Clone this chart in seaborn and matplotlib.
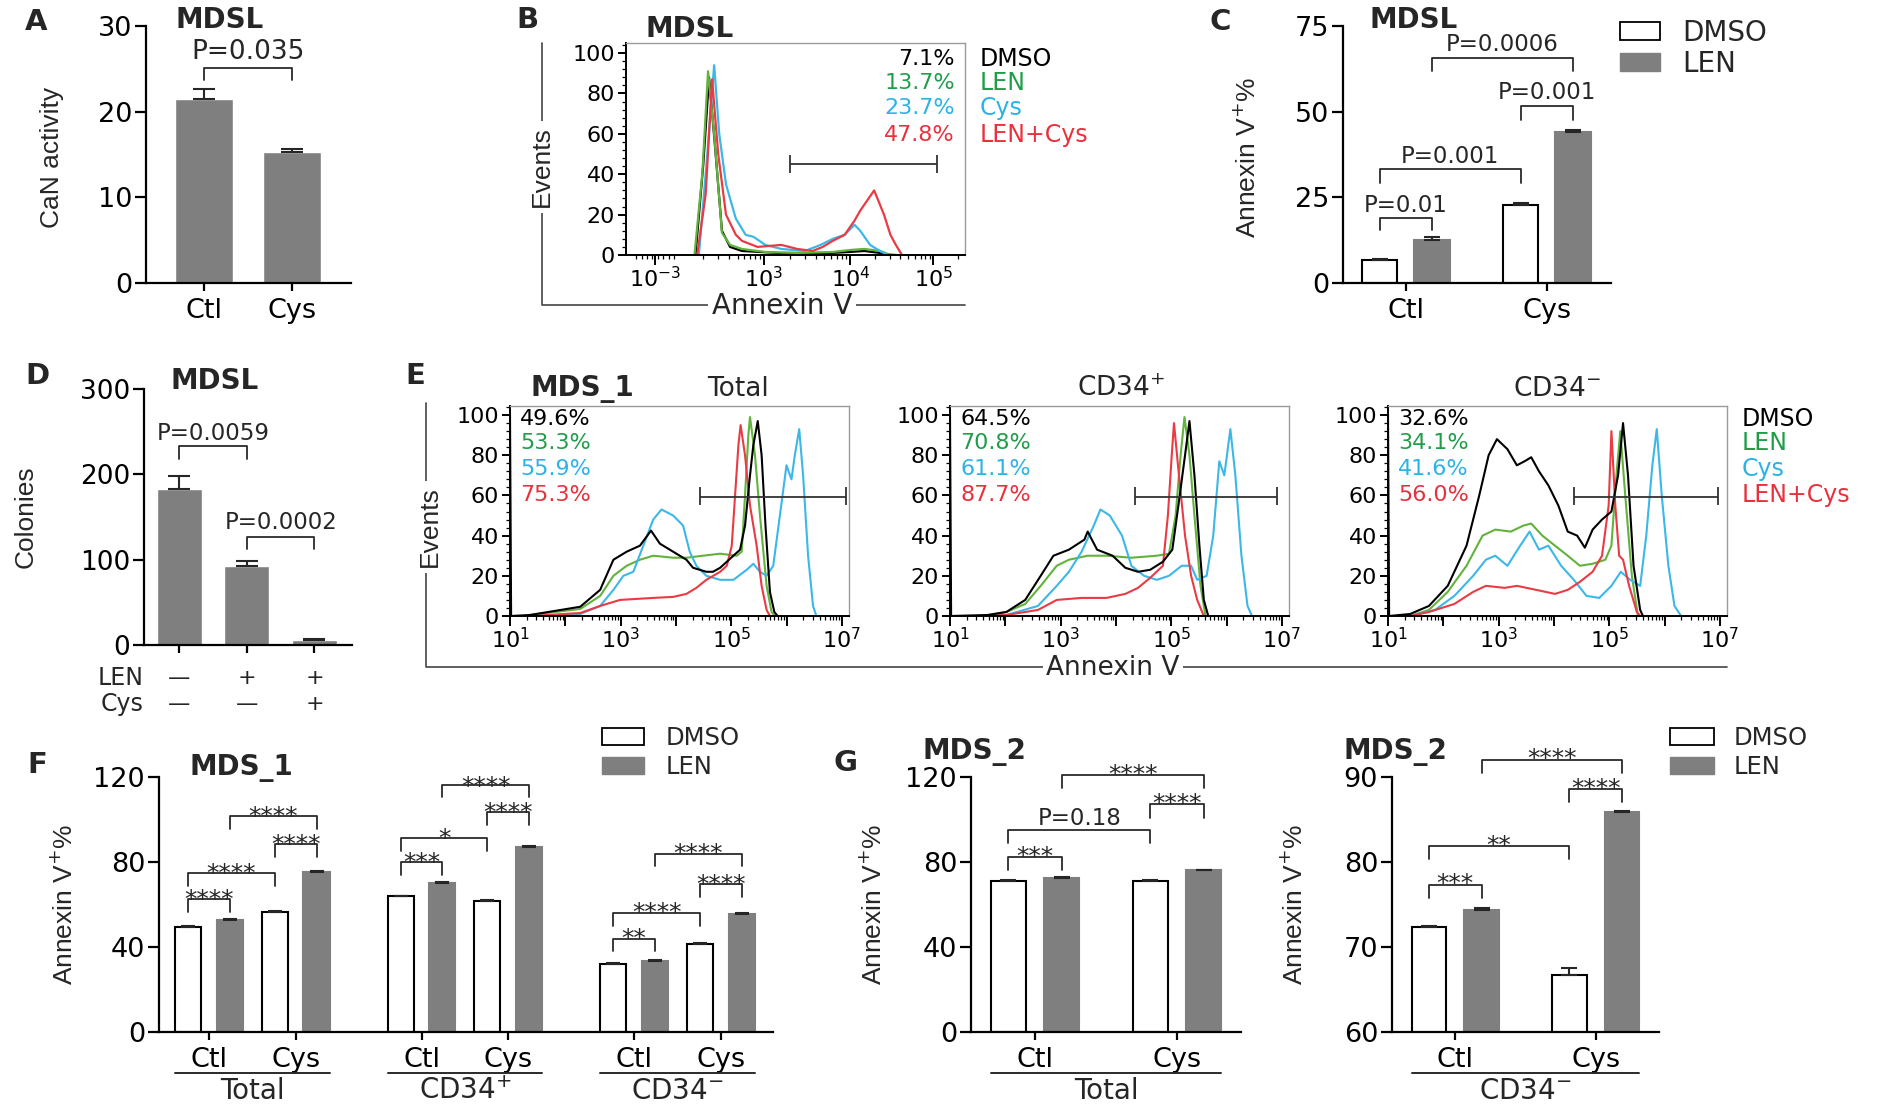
import numpy as np
import pandas as pd
import matplotlib
matplotlib.use('Agg')
import matplotlib.pyplot as plt
import seaborn as sns
from matplotlib import font_manager
from matplotlib.lines import Line2D
from matplotlib.patches import Patch
from matplotlib.ticker import AutoMinorLocator, FixedLocator, LogLocator, NullFormatter

W, H = 1881, 1107

# ---------------- data ----------------
# A: calcineurin activity
a_groups = ['Ctl', 'Cys']
a_mean = [21.5, 15.3]
a_err = [1.2, 0.3]

# B: MDSL annexin V histogram (x in channel units of the plot box, 0-100)
b_names = ['DMSO', 'LEN', 'Cys', 'LEN+Cys']
b_pct = ['7.1%', '13.7%', '23.7%', '47.8%']
b_ticks = [8.5, 40.6, 66.2, 90.7]
b_ticklabels = ['$10^{-3}$', '$10^{3}$', '$10^{4}$', '$10^{5}$']
b_gate = [48.5, 91.6, 45]
b_dmso_x = [20.5, 22.8, 24.5, 26.2, 28.3, 30.7, 34.2, 45.0, 60.0, 66.0, 70.3, 75.0, 78.0]
b_dmso_y = [0, 45, 88, 55, 12, 4, 2, 1, 1, 1.5, 2, 1, 0]
b_len_x = [20.2, 22.5, 24.2, 26.0, 28.3, 30.7, 34.2, 41.1, 50.5, 61.0, 66.2, 70.3, 74.9, 77.3, 80.0]
b_len_y = [0, 40, 91, 60, 11, 5, 3, 1.5, 1, 1.5, 2.5, 3, 2, 0.5, 0]
b_cys_x = [21.5, 24.0, 26.0, 27.5, 29.5, 32.4, 35.3, 37.6, 41.1, 45.8, 52.8, 57.4, 61.0, 64.5, 67.4, 69.1, 72.0, 74.9, 77.3]
b_cys_y = [0, 50, 94, 60, 35, 18, 10, 9, 5, 3, 2, 5, 8, 10, 15, 12, 5, 2, 0]
b_lc_x = [21.0, 23.5, 25.4, 27.2, 29.5, 32.4, 34.2, 38.8, 45.8, 50.5, 55.1, 58.0, 61.0, 64.5, 67.4, 69.1, 73.2, 76.1, 78.0, 79.6, 81.4]
b_lc_y = [0, 30, 87, 50, 20, 10, 7, 4, 5, 3, 2, 4, 7, 10, 17, 22, 32, 20, 10, 5, 0]

# C: MDSL annexin V+ %
c_cond = ['Ctl', 'Cys']
c_dmso = [6.8, 22.8]
c_dmso_err = [0.2, 0.6]
c_len = [12.5, 44.0]
c_len_err = [0.8, 0.7]
c_brackets = [(0, 1, 19.1, 15.4, 'P=0.01', 23.2), (0, 2, 33.2, 29.2, 'P=0.001', 37.3),
              (2, 3, 51.6, 47.7, 'P=0.001', 56.0), (1, 3, 65.8, 62.0, 'P=0.0006', 70.0)]

# D: colonies
d_vals = [182.6, 92.0, 5.5]
d_err = [16.0, 6.5, 1.5]
d_len = ['\u2014', '+', '+']
d_cys = ['\u2014', '\u2014', '+']
d_brackets = [(0, 1, 233.5, 218, 'P=0.0059', 250), (1, 2, 127, 112.6, 'P=0.0002', 145.5)]

# E: MDS_1 histograms (x in log10 annexin V)
e_titles = ['Total', 'CD34$^{+}$', 'CD34$^{-}$']
e_pct = [['49.6%', '53.3%', '55.9%', '75.3%'],
         ['64.5%', '70.8%', '61.1%', '87.7%'],
         ['32.6%', '34.1%', '41.6%', '56.0%']]
e_gate = [[4.43, 7.07], [4.34, 6.91], [4.36, 6.96]]
e_tot_dmso_x = [1.0, 1.02, 1.36, 2.27, 2.63, 2.87, 3.11, 3.35, 3.55, 3.71, 3.95, 4.19, 4.31, 4.55, 4.67, 4.80,
                4.92, 5.04, 5.16, 5.25, 5.34, 5.40, 5.48, 5.55, 5.62, 5.70, 5.78, 5.84]
e_tot_dmso_y = [100, 0, 0.5, 4.6, 13, 28, 32, 35, 42.5, 36, 32, 28, 24, 22, 22, 24, 27, 30, 33, 45, 70, 85, 97,
                80, 45, 12, 2, 0]
e_tot_len_x = [1.36, 2.27, 2.63, 2.87, 3.11, 3.35, 3.59, 3.95, 4.19, 4.49, 4.80, 5.10, 5.19, 5.25, 5.31, 5.34,
               5.43, 5.52, 5.64, 5.73, 5.79]
e_tot_len_y = [0.5, 3.5, 10, 20, 25, 28, 30, 29, 29, 30, 31, 30, 32, 60, 90, 99, 80, 50, 15, 2, 0]
e_tot_cys_x = [1.4, 2.27, 2.63, 2.87, 3.05, 3.23, 3.41, 3.59, 3.74, 3.95, 4.13, 4.25, 4.37, 4.55, 4.80, 5.04,
               5.28, 5.40, 5.52, 5.64, 5.76, 5.88, 6.00, 6.09, 6.15, 6.23, 6.30, 6.39, 6.48, 6.54]
e_tot_cys_y = [0, 1, 5, 13, 20, 22, 35, 48, 53, 50, 45, 32, 25, 20, 18, 18, 23, 26, 22, 20, 25, 50, 75, 68,
               80, 93, 70, 30, 5, 0]
e_tot_lc_x = [1.4, 2.27, 2.63, 2.99, 3.59, 3.95, 4.19, 4.37, 4.55, 4.80, 4.92, 5.01, 5.07, 5.13, 5.17, 5.25,
              5.34, 5.46, 5.55, 5.64, 5.70]
e_tot_lc_y = [0, 1.5, 5, 8, 9, 9.5, 11, 14, 18, 22, 25, 35, 60, 85, 95, 80, 55, 35, 15, 3, 0]

e_p_dmso_x = [1.0, 1.02, 1.68, 2.02, 2.36, 2.64, 2.87, 3.15, 3.43, 3.49, 3.66, 3.94, 4.17, 4.40, 4.62, 4.85,
              5.02, 5.13, 5.25, 5.33, 5.42, 5.51, 5.59, 5.67]
e_p_dmso_y = [100, 0, 0.5, 2, 8, 20, 30, 33, 38, 42, 33, 30, 24, 22, 23, 27, 33, 55, 80, 97, 70, 35, 8, 0]
e_p_len_x = [1.6, 2.02, 2.36, 2.64, 2.93, 3.15, 3.49, 3.83, 4.28, 4.74, 4.96, 5.08, 5.17, 5.24, 5.33, 5.42,
             5.53, 5.62]
e_p_len_y = [0, 2, 6, 15, 25, 28, 30, 30, 29, 30, 31, 50, 80, 99, 80, 50, 15, 0]
e_p_cys_x = [1.6, 2.02, 2.59, 2.93, 3.15, 3.38, 3.60, 3.72, 3.89, 4.11, 4.28, 4.51, 4.74, 4.96, 5.19, 5.36,
             5.47, 5.64, 5.76, 5.87, 5.96, 6.07, 6.16, 6.27, 6.38, 6.46]
e_p_cys_y = [0, 0.5, 5, 15, 22, 32, 45, 53, 50, 40, 25, 20, 18, 20, 25, 25, 18, 20, 40, 77, 70, 93, 70, 30,
             5, 0]
e_p_lc_x = [1.6, 2.02, 2.59, 2.93, 3.38, 3.83, 4.17, 4.40, 4.62, 4.85, 4.94, 5.01, 5.05, 5.14, 5.25, 5.36,
            5.47, 5.59]
e_p_lc_y = [0, 0.5, 3, 8, 9, 9, 11, 14, 19, 25, 50, 80, 96, 70, 40, 20, 8, 0]

e_n_dmso_x = [1.0, 1.02, 1.40, 1.74, 2.08, 2.42, 2.65, 2.82, 2.97, 3.16, 3.33, 3.47, 3.59, 3.73, 3.90, 4.08,
              4.25, 4.42, 4.56, 4.70, 4.87, 5.04, 5.16, 5.25, 5.34, 5.44, 5.56, 5.61]
e_n_dmso_y = [100, 0, 1, 5, 15, 35, 60, 80, 88, 83, 75, 77, 79, 72, 65, 55, 42, 40, 34, 43, 48, 52, 70, 96,
              70, 25, 3, 0]
e_n_len_x = [1.4, 1.74, 2.08, 2.42, 2.71, 2.94, 3.22, 3.45, 3.59, 3.79, 4.02, 4.25, 4.47, 4.70, 4.93, 5.04,
             5.13, 5.20, 5.29, 5.41, 5.52]
e_n_len_y = [0, 3, 12, 25, 40, 43, 42, 45, 46, 40, 35, 30, 25, 26, 28, 35, 70, 92, 60, 20, 0]
e_n_cys_x = [1.4, 1.85, 2.20, 2.54, 2.77, 2.94, 3.16, 3.39, 3.56, 3.73, 3.90, 4.13, 4.36, 4.59, 4.82, 5.04,
             5.21, 5.38, 5.56, 5.67, 5.78, 5.86, 5.95, 6.07, 6.18, 6.30]
e_n_cys_y = [0, 3, 10, 20, 28, 30, 25, 35, 42, 33, 35, 25, 18, 10, 9, 15, 22, 18, 15, 40, 75, 93, 60, 25, 5, 0]
e_n_lc_x = [1.4, 1.74, 2.20, 2.54, 2.77, 3.11, 3.33, 3.68, 4.02, 4.25, 4.47, 4.70, 4.87, 4.99, 5.04, 5.11,
            5.18, 5.25, 5.36, 5.50, 5.56]
e_n_lc_y = [0, 2, 6, 12, 15, 14, 15, 13, 11, 13, 17, 22, 30, 55, 92, 55, 30, 28, 15, 2, 0]

# F: MDS_1 annexin V+ % by subset
f_groups = ['Total', 'CD34$^{+}$', 'CD34$^{-}$']
f_dmso = [49.3, 56.3, 63.8, 61.8, 32.0, 41.4]
f_len = [52.9, 75.1, 70.3, 87.2, 33.6, 55.7]
f_err = [0.4, 0.5, 0.4, 0.4, 0.3, 0.4]
f_brackets = [(0, 1, 62.6, 56.3, '****', 65.7), (0, 2, 74.8, 68.5, '****', 78.0),
              (2, 3, 88.6, 82.4, '****', 91.3), (1, 3, 101.8, 95.5, '****', 104.6),
              (4, 5, 79.8, 73.9, '***', 83.0), (4, 6, 91.3, 85.3, '*', 94.4),
              (6, 7, 103.5, 97.3, '****', 106.5), (5, 7, 116.4, 110.4, '****', 119.0),
              (8, 9, 43.9, 38.0, '**', 47.4), (8, 10, 56.0, 49.7, '****', 59.5),
              (10, 11, 69.6, 63.5, '****', 72.9), (9, 11, 83.9, 78.0, '****', 87.4)]

# G: MDS_2
g1_dmso = [71.1, 71.1]
g1_len = [72.5, 76.1]
g1_err = [0.2, 0.4, 0.3, 0.2]
g1_brackets = [(0, 1, 82.4, 76.1, '***', 86.1), (0, 2, 95.2, 88.9, 'P=0.18', 101.2),
               (2, 3, 107.3, 100.9, '****', 111.0), (1, 3, 121.1, 114.8, '****', 124.7)]
g2_dmso = [72.4, 66.7]
g2_len = [74.3, 85.9]
g2_err = [0.1, 0.25, 0.8, 0.1]
g2_brackets = [(0, 1, 77.25, 75.8, '***', 78.3), (0, 2, 81.9, 80.35, '**', 82.8),
               (2, 3, 88.6, 87.06, '****', 89.5), (1, 3, 92.04, 90.5, '****', 93.0)]

# ---------------- style ----------------
GRAY = '#7f7f7f'
TXT = {'DMSO': 'black', 'LEN': '#1f9e4a', 'Cys': '#2cb3e6', 'LEN+Cys': '#e8313d'}
CRV = {'DMSO': 'black', 'LEN': '#62b23c', 'Cys': '#3bb8e8', 'LEN+Cys': '#ea3b44'}

sns.set_theme(style='ticks')
plt.rcParams['font.family'] = ['DejaVu Sans']
plt.rcParams['mathtext.fontset'] = 'dejavusans'
plt.rcParams['axes.edgecolor'] = 'black'
plt.rcParams['xtick.color'] = 'black'
plt.rcParams['ytick.color'] = 'black'

_names = {f.name for f in font_manager.fontManager.ttflist}
if 'Liberation Sans Narrow' in _names:
    NARROW, NFS = ['Liberation Sans Narrow', 'DejaVu Sans'], 22
else:
    NARROW, NFS = ['Liberation Sans', 'DejaVu Sans'], 19

fig = plt.figure(figsize=(W / 100, H / 100), dpi=100)


def axes_px(left, top, right, bottom):
    return fig.add_axes([left / W, 1 - bottom / H, (right - left) / W, (bottom - top) / H])


def ftext(x, y, s, **kw):
    return fig.text(x / W, 1 - y / H, s, **kw)


def fline(xs, ys, **kw):
    fig.add_artist(Line2D([x / W for x in xs], [1 - y / H for y in ys], **kw))


def letter(x, y, s):
    ftext(x, y, s, fontsize=21, fontweight='bold', ha='center', va='center')


def ylab(x, y, s):
    ftext(x, y, s, rotation=90, ha='center', va='center', fontsize=NFS, family=NARROW)


def style_bar(ax, fs=19):
    sns.despine(ax=ax)
    for s in ['left', 'bottom']:
        ax.spines[s].set_linewidth(1.6)
    ax.tick_params(axis='y', length=8, width=1.6, labelsize=fs, pad=2)
    ax.tick_params(axis='x', length=6, width=1.6, labelsize=fs, pad=5)
    ax.set_xlabel('')
    ax.set_ylabel('')


def sorted_bars(ax):
    return sorted(ax.patches, key=lambda p: p.get_x())


def centers(bars):
    return [p.get_x() + p.get_width() / 2 for p in bars]


def up_err(ax, xs, ys, errs, cap=7):
    ax.errorbar(xs, ys, yerr=[np.zeros(len(errs)), errs], fmt='none', ecolor='#262626',
                elinewidth=1.5, capsize=cap, capthick=1.5, zorder=3)


def bracket(ax, x1, x2, yb, yl, label, yt, fs):
    ax.plot([x1, x1, x2, x2], [yl, yb, yb, yl], color='#2a2a2a', lw=1.3, clip_on=False)
    k = 0.58 if label.startswith('*') else 0.36
    ax.annotate(label, xy=((x1 + x2) / 2, yt), xytext=(0, -k * fs), textcoords='offset points',
                ha='center', va='baseline', fontsize=fs, annotation_clip=False)


def grouped(ax, xvals, dmso, lenv, width, gap, native=False):
    df = pd.DataFrame({'x': list(xvals) * 2, 'treat': ['DMSO'] * len(dmso) + ['LEN'] * len(lenv),
                       'val': list(dmso) + list(lenv)})
    sns.barplot(data=df, x='x', y='val', hue='treat', palette={'DMSO': 'white', 'LEN': GRAY},
                width=width, gap=gap, saturation=1, errorbar=None, edgecolor='black', linewidth=1.5,
                legend=False, native_scale=native, ax=ax)
    bars = sorted_bars(ax)
    vals = []
    for i in range(len(dmso)):
        vals += [dmso[i], lenv[i]]
    for i, p in enumerate(bars):
        if i % 2 == 1:
            p.set_edgecolor(GRAY)
    return bars, vals


def bar_legend(x, y, fs, hl, hh, ls, htp):
    handles = [Patch(facecolor='white', edgecolor='black', linewidth=1.3, label='DMSO'),
               Patch(facecolor=GRAY, edgecolor=GRAY, label='LEN')]
    fig.legend(handles=handles, loc='upper left', bbox_to_anchor=(x / W, 1 - y / H), frameon=False,
               fontsize=fs, handlelength=hl, handleheight=hh, labelspacing=ls, borderpad=0,
               borderaxespad=0, handletextpad=htp)


def flow_axes(ax, fs=16):
    for s in ['top', 'right']:
        ax.spines[s].set_color('#9a9a9a')
        ax.spines[s].set_linewidth(1.0)
    for s in ['left', 'bottom']:
        ax.spines[s].set_linewidth(1.4)
    ax.set_yticks([0, 20, 40, 60, 80, 100])
    ax.yaxis.set_minor_locator(AutoMinorLocator(5))
    ax.tick_params(which='major', length=6, width=1.4, labelsize=fs, pad=2)
    ax.tick_params(which='minor', length=3, width=0.9)
    ax.tick_params(axis='x', which='major', length=7, pad=1)
    ax.set_xlabel('')
    ax.set_ylabel('')


# ---------------- A ----------------
ax = axes_px(146, 26, 351, 283)
sns.barplot(x=a_groups, y=a_mean, color=GRAY, saturation=1, width=0.65, errorbar=None, ax=ax)
xa = centers(sorted_bars(ax))
up_err(ax, xa, a_mean, a_err, cap=8)
ax.set_xlim(-0.66, 1.67)
ax.set_ylim(0, 30)
ax.set_yticks([0, 10, 20, 30])
style_bar(ax, 19.5)
bracket(ax, xa[0], xa[1], 25.1, 23.7, 'P=0.035', 27.2, 19)
letter(36, 22, 'A')
ftext(220, 20, 'MDSL', fontsize=20, fontweight='bold', ha='center', va='center')
ylab(52, 157, 'CaN activity')

# ---------------- B ----------------
ax = axes_px(626, 43, 965, 255)
b_curves = [('DMSO', b_dmso_x, b_dmso_y), ('LEN', b_len_x, b_len_y),
            ('Cys', b_cys_x, b_cys_y), ('LEN+Cys', b_lc_x, b_lc_y)]
for name, xs, ys in b_curves:
    sns.lineplot(x=xs, y=ys, color=CRV[name], lw=1.6, sort=False, estimator=None, ax=ax)
ax.set_xlim(0, 100)
ax.set_ylim(0, 105)
flow_axes(ax, 16)
ax.set_xticks(b_ticks, b_ticklabels)
bminor = [40.6 - 25.6 * (1 - np.log10(k)) for k in range(2, 10)]
bminor += [40.6 + 25.6 * np.log10(k) for k in range(2, 10)]
bminor += [66.2 + 24.5 * np.log10(k) for k in range(2, 10)]
bminor += [90.7 + 24.5 * np.log10(k) for k in range(2, 3)]
bminor += list(np.arange(3.0, 15.0, 1.6))
ax.xaxis.set_minor_locator(FixedLocator(bminor))
ax.hlines(b_gate[2], b_gate[0], b_gate[1], color='#333333', lw=1.3)
ax.vlines([b_gate[0], b_gate[1]], b_gate[2] - 4.5, b_gate[2] + 4.5, color='#333333', lw=1.3)
ty = [97, 85, 72.7, 59.5]
for i, name in enumerate(b_names):
    ax.text(0.97, ty[i], b_pct[i], transform=ax.get_yaxis_transform(), ha='right', va='center',
            fontsize=16, color=TXT[name])
    ax.text(1.044, ty[i], name, transform=ax.get_yaxis_transform(), ha='left', va='center',
            fontsize=17, color=TXT[name], clip_on=False)
letter(527, 20, 'B')
ftext(690, 29, 'MDSL', fontsize=20, fontweight='bold', ha='center', va='center')
fline([542, 542, 965], [43, 305, 305], color='#444444', lw=1.2)
ftext(542, 167, 'Events', rotation=90, ha='center', va='center', fontsize=NFS, family=NARROW,
      bbox=dict(facecolor='white', edgecolor='none', pad=4))
ftext(782, 306, 'Annexin V', ha='center', va='center', fontsize=20,
      bbox=dict(facecolor='white', edgecolor='none', pad=3))

# ---------------- C ----------------
ax = axes_px(1343, 26, 1611, 283)
bars, vals = grouped(ax, c_cond, c_dmso, c_len, 0.74, 0.32)
xc = centers(bars)
up_err(ax, xc, vals, [c_dmso_err[0], c_len_err[0], c_dmso_err[1], c_len_err[1]], cap=6)
ax.set_xlim(-0.445, 1.455)
ax.set_ylim(0, 75)
ax.set_yticks([0, 25, 50, 75])
style_bar(ax, 19.5)
for i, j, yb, yl, lab, yt in c_brackets:
    bracket(ax, xc[i], xc[j], yb, yl, lab, yt, 16.5)
letter(1220, 22, 'C')
ftext(1414, 20, 'MDSL', fontsize=20, fontweight='bold', ha='center', va='center')
ylab(1248, 157, 'Annexin V$^{+}$%')
bar_legend(1620, 19, 20, 1.44, 0.61, 0.1, 0.8)

# ---------------- D ----------------
ax = axes_px(144, 389, 352, 645)
sns.barplot(x=['a', 'b', 'c'], y=d_vals, color=GRAY, saturation=1, width=0.667, errorbar=None, ax=ax)
xd = centers(sorted_bars(ax))
up_err(ax, xd, d_vals, d_err, cap=8)
ax.set_xlim(-0.526, 2.556)
ax.set_ylim(0, 300)
ax.set_yticks([0, 100, 200, 300])
style_bar(ax, 19)
ax.set_xticklabels([])
for i, j, yb, yl, lab, yt in d_brackets:
    bracket(ax, xd[i], xd[j], yb, yl, lab, yt, 16.5)
ax.text(0.0, -0.128, 'LEN', transform=ax.transAxes, ha='right', va='center', fontsize=17)
ax.text(0.0, -0.232, 'Cys', transform=ax.transAxes, ha='right', va='center', fontsize=17)
for k in range(3):
    ax.text(xd[k], -0.128, d_len[k], transform=ax.get_xaxis_transform(), ha='center', va='center',
            fontsize=16)
    ax.text(xd[k], -0.232, d_cys[k], transform=ax.get_xaxis_transform(), ha='center', va='center',
            fontsize=16)
letter(37, 376, 'D')
ftext(215, 381, 'MDSL', fontsize=20, fontweight='bold', ha='center', va='center')
ylab(26, 517, 'Colonies')

# ---------------- E ----------------
e_curves = [
    [('LEN', e_tot_len_x, e_tot_len_y), ('Cys', e_tot_cys_x, e_tot_cys_y),
     ('LEN+Cys', e_tot_lc_x, e_tot_lc_y), ('DMSO', e_tot_dmso_x, e_tot_dmso_y)],
    [('LEN', e_p_len_x, e_p_len_y), ('Cys', e_p_cys_x, e_p_cys_y),
     ('LEN+Cys', e_p_lc_x, e_p_lc_y), ('DMSO', e_p_dmso_x, e_p_dmso_y)],
    [('LEN', e_n_len_x, e_n_len_y), ('Cys', e_n_cys_x, e_n_cys_y),
     ('LEN+Cys', e_n_lc_x, e_n_lc_y), ('DMSO', e_n_dmso_x, e_n_dmso_y)],
]
e_lefts = [510, 950, 1388]
e_title_x = [738, 1121, 1557]
e_ty = [97.8, 86, 73, 60.2]
e_order = ['DMSO', 'LEN', 'Cys', 'LEN+Cys']
for p in range(3):
    ax = axes_px(e_lefts[p], 406, e_lefts[p] + 339, 616)
    ax.set_xscale('log')
    for name, xs, ys in e_curves[p]:
        sns.lineplot(x=10 ** np.array(xs), y=ys, color=CRV[name], lw=1.5, sort=False, estimator=None, ax=ax)
    ax.set_xlim(10, 10 ** 7.13)
    ax.set_ylim(0, 104.5)
    flow_axes(ax, 16)
    ax.set_xticks([10.0 ** k for k in range(1, 8)],
                  ['$10^{%d}$' % k if k % 2 == 1 else '' for k in range(1, 8)])
    ax.xaxis.set_minor_locator(LogLocator(base=10, subs=np.arange(2, 10), numticks=20))
    ax.xaxis.set_minor_formatter(NullFormatter())
    g0, g1 = 10 ** e_gate[p][0], 10 ** e_gate[p][1]
    ax.hlines(59.4, g0, g1, color='#333333', lw=1.3)
    ax.vlines([g0, g1], 55, 64, color='#333333', lw=1.3)
    for i, name in enumerate(e_order):
        ax.text(0.03, e_ty[i], e_pct[p][i], transform=ax.get_yaxis_transform(), ha='left', va='center',
                fontsize=16, color=TXT[name])
        if p == 2:
            ax.text(1.044, e_ty[i], name, transform=ax.get_yaxis_transform(), ha='left', va='center',
                    fontsize=17, color=TXT[name], clip_on=False)
    ftext(e_title_x[p], 389, e_titles[p], fontsize=19, ha='center', va='center')
letter(415, 376, 'E')
ftext(582, 389, 'MDS_1', fontsize=20, fontweight='bold', ha='center', va='center')
fline([426, 426, 1727], [403, 667, 667], color='#444444', lw=1.2)
ftext(430, 527, 'Events', rotation=90, ha='center', va='center', fontsize=NFS, family=NARROW,
      bbox=dict(facecolor='white', edgecolor='none', pad=4))
ftext(1113, 668, 'Annexin V', ha='center', va='center', fontsize=19,
      bbox=dict(facecolor='white', edgecolor='none', pad=2))

# ---------------- F ----------------
ax = axes_px(159, 777, 773, 1032)
f_pos = [g * 2.45 + c for g in range(3) for c in range(2)]
bars, vals = grouped(ax, f_pos, f_dmso, f_len, 0.96, 0.375, native=True)
xf = centers(bars)
errs = []
for i in range(len(f_dmso)):
    errs += [f_err[i], f_err[i]]
up_err(ax, xf, vals, errs, cap=5)
ax.set_xlim(-0.575, 6.5)
ax.set_ylim(0, 120)
ax.set_yticks([0, 40, 80, 120])
ax.set_xticks(f_pos, ['Ctl', 'Cys'] * 3)
style_bar(ax, 19.5)
for i, j, yb, yl, lab, yt in f_brackets:
    bracket(ax, xf[i], xf[j], yb, yl, lab, yt, 18)
tr = ax.get_xaxis_transform()
for g, name in enumerate(f_groups):
    x0 = bars[4 * g].get_x()
    x1 = bars[4 * g + 3].get_x() + bars[4 * g + 3].get_width()
    ax.plot([x0, x1], [-0.16, -0.16], transform=tr, color='#2a2a2a', lw=1.4, clip_on=False)
    ax.text((x0 + x1) / 2, -0.23, name, transform=tr, ha='center', va='center', fontsize=20)
letter(37, 765, 'F')
ftext(241, 768, 'MDS_1', fontsize=20, fontweight='bold', ha='center', va='center')
ylab(65, 904, 'Annexin V$^{+}$%')
bar_legend(602, 726, 17.5, 1.73, 0.69, 0.2, 0.9)

# ---------------- G ----------------
g_panels = [(971, 1241, g1_dmso, g1_len, g1_err, g1_brackets, (0, 120), [0, 40, 80, 120], 'Total', 974, 874),
            (1392, 1659, g2_dmso, g2_len, g2_err, g2_brackets, (60, 90), [60, 70, 80, 90], 'CD34$^{-}$', 1395, 1295)]
for left, right, dm, ln, er, brs, ylim, yt, grp, tx, lx in g_panels:
    ax = axes_px(left, 777, right, 1032)
    bars, vals = grouped(ax, ['Ctl', 'Cys'], dm, ln, 0.75, 0.35)
    xg = centers(bars)
    up_err(ax, xg, vals, er, cap=6)
    ax.set_xlim(-0.45, 1.45)
    ax.set_ylim(*ylim)
    ax.set_yticks(yt)
    style_bar(ax, 19.5)
    for i, j, yb, yl, lab, ytx in brs:
        bracket(ax, xg[i], xg[j], yb, yl, lab, ytx, 18 if lab.startswith('*') else 16.5)
    tr = ax.get_xaxis_transform()
    x0 = bars[0].get_x()
    x1 = bars[3].get_x() + bars[3].get_width()
    ax.plot([x0, x1], [-0.16, -0.16], transform=tr, color='#2a2a2a', lw=1.4, clip_on=False)
    ax.text((x0 + x1) / 2, -0.23, grp, transform=tr, ha='center', va='center', fontsize=20)
    ftext(tx, 752, 'MDS_2', fontsize=20, fontweight='bold', ha='center', va='center')
    ylab(lx, 904, 'Annexin V$^{+}$%')
letter(846, 763, 'G')
bar_legend(1670, 726, 17.5, 1.8, 0.69, 0.2, 0.8)

fig.savefig('out.png', dpi=100)
